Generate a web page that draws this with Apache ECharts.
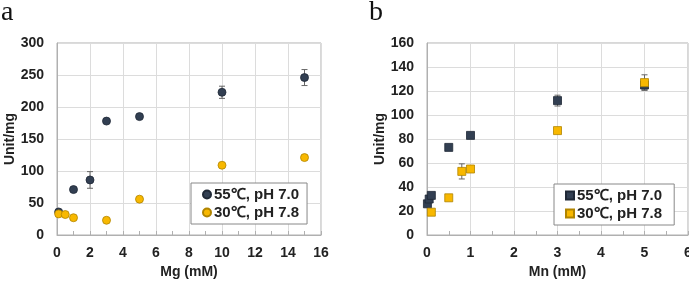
<!DOCTYPE html>
<html><head><meta charset="utf-8">
<script src="https://cdn.jsdelivr.net/npm/echarts@6/dist/echarts.min.js"></script>
<style>html,body{margin:0;padding:0;background:#fff}#c{width:689px;height:282px}</style>
</head><body><div id="c"></div>
<script>
// Panel a: Mg
const mgX55 = [0.1, 1, 2, 3, 5, 10, 15];
const mgY55 = [36, 71, 86, 178, 185, 223, 246];
const mgErr55 = [0, 0, 13, 0, 0, 9.5, 12.5];
const mgX30 = [0.1, 0.5, 1, 3, 5, 10, 15];
const mgY30 = [33, 32, 27, 23, 56, 109, 121];
const mgErr30 = [0, 0, 0, 0, 0, 0, 0];
// Panel b: Mn
const mnX55 = [0.01, 0.05, 0.1, 0.5, 1, 3, 5];
const mnY55 = [26, 30, 33, 73, 83, 112, 125];
const mnErr55 = [0, 0, 0, 0, 0, 4.5, 4];
const mnX30 = [0.1, 0.5, 0.8, 1, 3, 5];
const mnY30 = [19, 31, 53, 55, 87, 127];
const mnErr30 = [0, 0, 6.3, 0, 0, 6.5];
const name55 = '55℃, pH 7.0';
const name30 = '30℃, pH 7.8';

const navy = '#323f52', navyB = '#1f2836';
const yellow = '#f8b800', yellowB = '#b08400';
const FONT = '"Liberation Sans", Arial, Helvetica, sans-serif';

function pts(xs, ys) { return xs.map((x, i) => [x, ys[i]]); }
function errData(xs, ys, es) {
  const out = [];
  xs.forEach((x, i) => { if (es[i] > 0) out.push([x, ys[i] - es[i], ys[i] + es[i]]); });
  return out;
}
function errSeries(data, idx) {
  return {
    type: 'custom', xAxisIndex: idx, yAxisIndex: idx, silent: true, z: 1,
    data: data,
    renderItem: function (params, api) {
      const x = api.value(0);
      const lo = api.coord([x, api.value(1)]);
      const hi = api.coord([x, api.value(2)]);
      const w = 3;
      const st = { stroke: '#666', lineWidth: 1 };
      return { type: 'group', children: [
        { type: 'line', shape: { x1: lo[0], y1: lo[1], x2: hi[0], y2: hi[1] }, style: st },
        { type: 'line', shape: { x1: lo[0] - w, y1: lo[1], x2: lo[0] + w, y2: lo[1] }, style: st },
        { type: 'line', shape: { x1: hi[0] - w, y1: hi[1], x2: hi[0] + w, y2: hi[1] }, style: st }
      ]};
    }
  };
}
function xAx(idx, max, interval, name) {
  return {
    type: 'value', gridIndex: idx, min: 0, max: max, interval: interval, name: name,
    nameLocation: 'middle', nameGap: 30,
    nameTextStyle: { fontFamily: FONT, fontWeight: 'bold', fontSize: 14, color: '#222' },
    axisLine: { show: true, lineStyle: { color: '#b0b0b0' } },
    axisTick: { show: true, inside: true, length: 4, lineStyle: { color: '#b0b0b0' } },
    minorTick: { show: true, splitNumber: 2, length: 4, lineStyle: { color: '#b0b0b0' } },
    axisLabel: { fontFamily: FONT, fontWeight: 'bold', fontSize: 14, color: '#222', margin: 11 },
    splitLine: { show: true, lineStyle: { color: '#dcdcdc' } }
  };
}
function yAx(idx, max, interval) {
  return {
    type: 'value', gridIndex: idx, min: 0, max: max, interval: interval, name: 'Unit/mg',
    nameLocation: 'middle', nameGap: 40, nameRotate: 90,
    nameTextStyle: { fontFamily: FONT, fontWeight: 'bold', fontSize: 14, color: '#222' },
    axisLine: { show: true, lineStyle: { color: '#b0b0b0' } },
    axisTick: { show: false },
    axisLabel: { fontFamily: FONT, fontWeight: 'bold', fontSize: 14, color: '#222', margin: 13 },
    splitLine: { show: true, lineStyle: { color: '#dcdcdc' } }
  };
}
function scat(name, data, idx, sym, color, border) {
  return {
    name: name, type: 'scatter', xAxisIndex: idx, yAxisIndex: idx, data: data,
    symbol: sym, symbolSize: 8, z: 3,
    itemStyle: { color: color, borderColor: border, borderWidth: 0.8, opacity: 1 }
  };
}
function legend(left, top, icon, names) {
  return {
    show: true, orient: 'vertical', left: left, top: top, data: names,
    icon: icon, itemWidth: 8, itemHeight: 8, itemGap: 3,
    padding: [4, 8, 4, 11], borderColor: '#888', borderWidth: 1, backgroundColor: '#fff',
    textStyle: { fontFamily: FONT, fontWeight: 'bold', fontSize: 15, color: '#222', padding: [0, 0, 0, -2] },
    selectedMode: false
  };
}

const chart = echarts.init(document.getElementById('c'), null, { renderer: 'canvas' });
chart.setOption({
  animation: false,
  backgroundColor: '#fff',
  grid: [
    { left: 57, top: 43, width: 264, height: 192, show: true, borderColor: '#b0b0b0', borderWidth: 1, containLabel: false, outerBoundsMode: 'none' },
    { left: 427, top: 43, width: 261, height: 192, show: true, borderColor: '#b0b0b0', borderWidth: 1, containLabel: false, outerBoundsMode: 'none' }
  ],
  xAxis: [xAx(0, 16, 2, 'Mg (mM)'), xAx(1, 6, 1, 'Mn (mM)')],
  yAxis: [yAx(0, 300, 50), yAx(1, 160, 20)],
  legend: [
    legend(191, 183, 'circle', [name55, name30]),
    legend(554, 184, 'rect', [name55 + ' ', name30 + ' '])
  ],
  graphic: [
    { type: 'text', left: 1, top: -1, style: { text: 'a', font: '28px "Liberation Serif", "Times New Roman", serif', fill: '#111' } },
    { type: 'text', left: 369, top: -1, style: { text: 'b', font: '28px "Liberation Serif", "Times New Roman", serif', fill: '#111' } }
  ],
  series: [
    errSeries(errData(mgX55, mgY55, mgErr55), 0),
    errSeries(errData(mgX30, mgY30, mgErr30), 0),
    scat(name55, pts(mgX55, mgY55), 0, 'circle', navy, navyB),
    scat(name30, pts(mgX30, mgY30), 0, 'circle', yellow, yellowB),
    errSeries(errData(mnX55, mnY55, mnErr55), 1),
    errSeries(errData(mnX30, mnY30, mnErr30), 1),
    scat(name55 + ' ', pts(mnX55, mnY55), 1, 'rect', navy, navyB),
    scat(name30 + ' ', pts(mnX30, mnY30), 1, 'rect', yellow, yellowB)
  ]
});
</script></body></html>
